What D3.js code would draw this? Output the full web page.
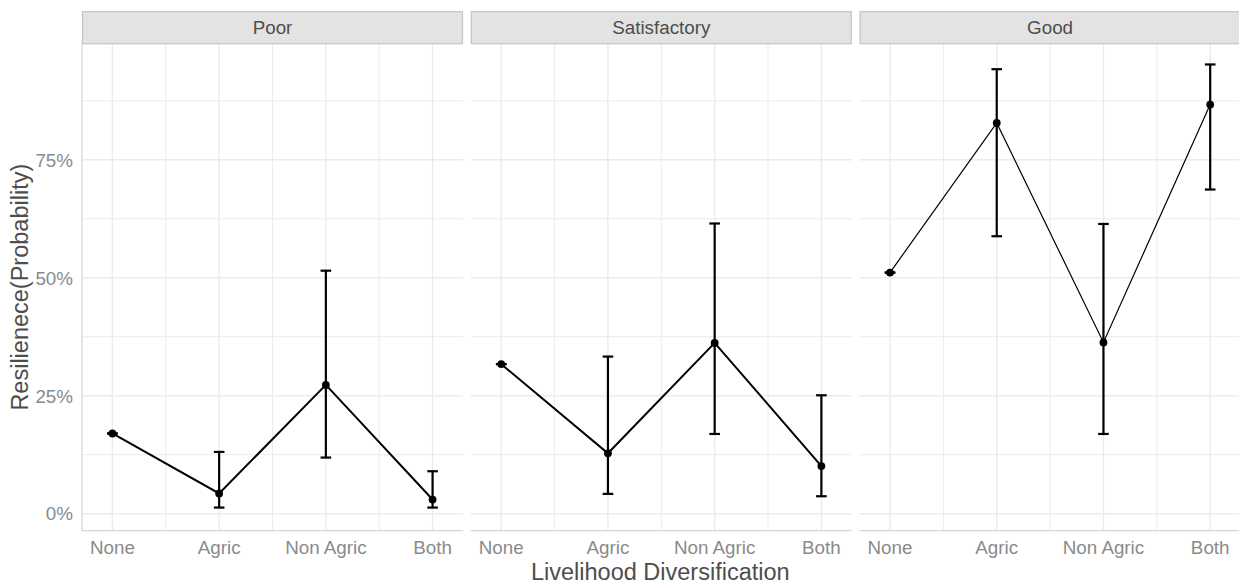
<!DOCTYPE html>
<html>
<head>
<meta charset="utf-8">
<script src="https://cdn.jsdelivr.net/npm/d3@7"></script>
<style>
  body { margin: 0; background: #fff; }
  svg { display: block; font-family: "Liberation Sans", Arial, sans-serif; }
</style>
</head>
<body>
<svg id="canvas"></svg>
<script>
const width = 1239, height = 585;

/* Data */
const facets = ["Poor", "Satisfactory", "Good"];
const categories = ["None", "Agric", "Non Agric", "Both"];
const yTicks = [0, 0.25, 0.5, 0.75];

const poorFit = [0.170, 0.043, 0.273, 0.030];
const poorLow = [0.170, 0.013, 0.119, 0.013];
const poorHigh = [0.170, 0.131, 0.515, 0.090];

const satFit = [0.317, 0.128, 0.362, 0.101];
const satLow = [0.317, 0.042, 0.169, 0.037];
const satHigh = [0.317, 0.333, 0.615, 0.251];

const goodFit = [0.511, 0.828, 0.363, 0.867];
const goodLow = [0.511, 0.588, 0.169, 0.687];
const goodHigh = [0.511, 0.942, 0.614, 0.952];

const series = [
    { fit: poorFit, low: poorLow, high: poorHigh, lw: 2 },
    { fit: satFit, low: satLow, high: satHigh, lw: 2 },
    { fit: goodFit, low: goodLow, high: goodHigh, lw: 1.2 }
];

/* Layout */
const panelW = 381, gap = 7.8;
const plotLeft = 82, plotTop = 43.7, plotBottom = 530.7, stripTop = 11.7;
const tickSize = "18.8px", titleSize = "23.5px";

const svg = d3.select("#canvas")
    .attr("width", width)
    .attr("height", height);

/* Scales */
const y = d3.scaleLinear()
    .domain([-0.036, 0.996])
    .range([plotBottom, plotTop]);

const x = d3.scaleLinear()
    .domain([0.715, 4.285])
    .range([0, panelW]);

const gridColor = "#ebebeb";
const minorY = [0.125, 0.375, 0.625, 0.875];
const minorX = [1.5, 2.5, 3.5];

facets.forEach((name, i) => {
    const x0 = plotLeft + i * (panelW + gap);
    const s = series[i];
    const g = svg.append("g").attr("transform", `translate(${x0},0)`);

    /* grid */
    g.selectAll("line.ymin").data(minorY).enter().append("line")
        .attr("x1", 0).attr("x2", panelW)
        .attr("y1", d => y(d)).attr("y2", d => y(d))
        .attr("stroke", gridColor).attr("stroke-width", 1);
    g.selectAll("line.ymaj").data(yTicks).enter().append("line")
        .attr("x1", 0).attr("x2", panelW)
        .attr("y1", d => y(d)).attr("y2", d => y(d))
        .attr("stroke", gridColor).attr("stroke-width", 1.4);
    g.selectAll("line.xmin").data(minorX).enter().append("line")
        .attr("x1", d => x(d)).attr("x2", d => x(d))
        .attr("y1", plotTop).attr("y2", plotBottom)
        .attr("stroke", gridColor).attr("stroke-width", 1);
    g.selectAll("line.xmaj").data(categories).enter().append("line")
        .attr("x1", (d, k) => x(k + 1)).attr("x2", (d, k) => x(k + 1))
        .attr("y1", plotTop).attr("y2", plotBottom)
        .attr("stroke", gridColor).attr("stroke-width", 1.4);

    /* axis lines */
    g.append("line")
        .attr("x1", 0).attr("x2", panelW)
        .attr("y1", plotBottom).attr("y2", plotBottom)
        .attr("stroke", "#d6d6d6").attr("stroke-width", 1.2);
    if (i === 0) {
        g.append("line")
            .attr("x1", 0).attr("x2", 0)
            .attr("y1", plotTop).attr("y2", plotBottom)
            .attr("stroke", "#d6d6d6").attr("stroke-width", 1.2);
    }

    /* strip */
    g.append("rect")
        .attr("x", 0.5).attr("y", stripTop)
        .attr("width", panelW - 1).attr("height", plotTop - stripTop)
        .attr("fill", "#e3e3e3")
        .attr("stroke", "#c4c4c4").attr("stroke-width", 1.2);
    g.append("text")
        .attr("x", panelW / 2).attr("y", (stripTop + plotTop) / 2)
        .attr("dy", "0.36em")
        .attr("text-anchor", "middle")
        .attr("fill", "#4d4d4d")
        .style("font-size", tickSize)
        .text(name);

    /* x tick labels */
    g.selectAll("text.xt").data(categories).enter().append("text")
        .attr("x", (d, k) => x(k + 1)).attr("y", 554)
        .attr("text-anchor", "middle")
        .attr("fill", "#8a8a8a")
        .style("font-size", tickSize)
        .text(d => d);

    const pts = categories.map((c, k) => ({ k: k + 1, fit: s.fit[k], low: s.low[k], high: s.high[k] }));

    /* line */
    g.append("path")
        .datum(pts)
        .attr("fill", "none")
        .attr("stroke", "#000")
        .attr("stroke-width", s.lw)
        .attr("d", d3.line().x(d => x(d.k)).y(d => y(d.fit)));

    /* error bars */
    const cap = 5.3;
    const eb = g.append("g").attr("stroke", "#000").attr("stroke-width", 2.2);
    eb.selectAll("line.v").data(pts).enter().append("line")
        .attr("x1", d => x(d.k)).attr("x2", d => x(d.k))
        .attr("y1", d => y(d.low)).attr("y2", d => y(d.high));
    eb.selectAll("line.hi").data(pts).enter().append("line")
        .attr("x1", d => x(d.k) - cap).attr("x2", d => x(d.k) + cap)
        .attr("y1", d => y(d.high)).attr("y2", d => y(d.high));
    eb.selectAll("line.lo").data(pts).enter().append("line")
        .attr("x1", d => x(d.k) - cap).attr("x2", d => x(d.k) + cap)
        .attr("y1", d => y(d.low)).attr("y2", d => y(d.low));

    /* points */
    g.selectAll("circle").data(pts).enter().append("circle")
        .attr("cx", d => x(d.k)).attr("cy", d => y(d.fit))
        .attr("r", 3.9)
        .attr("fill", "#000");
});

/* y tick labels */
svg.selectAll("text.yt").data(yTicks).enter().append("text")
    .attr("x", 73).attr("y", d => y(d))
    .attr("dy", "0.36em")
    .attr("text-anchor", "end")
    .attr("fill", "#8a8a8a")
    .style("font-size", tickSize)
    .text(d => d3.format(".0%")(d));

/* axis titles */
svg.append("text")
    .attr("x", plotLeft + (3 * panelW + 2 * gap) / 2 - 1)
    .attr("y", 579.5)
    .attr("text-anchor", "middle")
    .attr("fill", "#4d4d4d")
    .style("font-size", titleSize)
    .text("Livelihood Diversification");

svg.append("text")
    .attr("transform", `translate(28,${(plotTop + plotBottom) / 2}) rotate(-90)`)
    .attr("text-anchor", "middle")
    .attr("fill", "#4d4d4d")
    .style("font-size", titleSize)
    .text("Resilienece(Probability)");
</script>
</body>
</html>
